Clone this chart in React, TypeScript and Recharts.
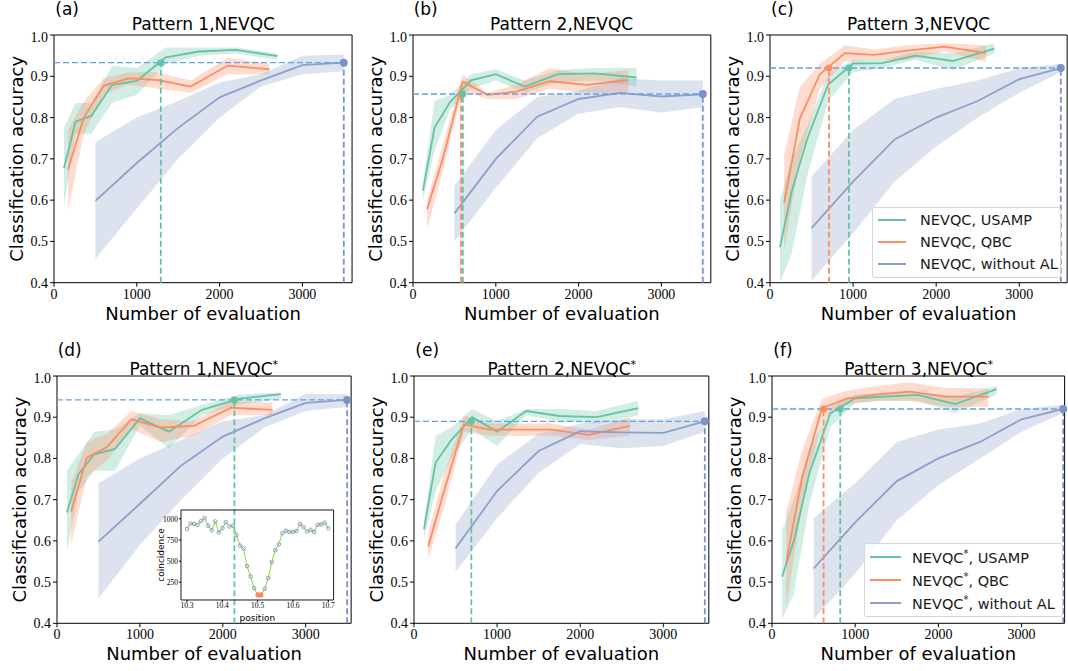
import React from 'react';
import {
  ComposedChart, Line, Area, XAxis, YAxis, ReferenceLine, ReferenceDot,
  ReferenceArea, Legend, Label,
} from 'recharts';

const GREEN = '#66c2a5';
const ORANGE = '#fc8d62';
const BLUE = '#8da0cb';
const HLINE = '#66a3e0';
const VBLUE = '#7b93c8';

// x positions (number of evaluation)
const USAMP_X = [120, 260, 450, 700, 1000, 1350, 1750, 2200, 2700];
const QBC_X = [170, 360, 600, 900, 1250, 1650, 2100, 2600];
const NOAL_X = [500, 1000, 1500, 2000, 2500, 3000, 3500];
const X_TICKS = [0, 1000, 2000, 3000];
const Y_TICKS = [0.4, 0.5, 0.6, 0.7, 0.8, 0.9, 1.0];

// (a) Pattern 1, NEVQC
const aUsamp = [0.677, 0.79, 0.804, 0.879, 0.889, 0.946, 0.96, 0.964, 0.949];
const aUsampLo = [0.585, 0.76, 0.76, 0.835, 0.855, 0.93, 0.95, 0.955, 0.94];
const aUsampHi = [0.775, 0.835, 0.835, 0.925, 0.92, 0.97, 0.97, 0.97, 0.955];
const aQbc = [0.674, 0.8, 0.877, 0.895, 0.891, 0.875, 0.926, 0.917];
const aQbcLo = [0.575, 0.76, 0.855, 0.88, 0.87, 0.86, 0.905, 0.905];
const aQbcHi = [0.77, 0.84, 0.895, 0.91, 0.91, 0.89, 0.945, 0.93];
const aNoal = [0.598, 0.69, 0.775, 0.849, 0.89, 0.927, 0.933];
const aNoalLo = [0.458, 0.58, 0.7, 0.8, 0.875, 0.905, 0.912];
const aNoalHi = [0.74, 0.8, 0.84, 0.885, 0.905, 0.95, 0.953];

// (b) Pattern 2, NEVQC
const bUsamp = [0.623, 0.776, 0.838, 0.89, 0.905, 0.875, 0.905, 0.907, 0.897];
const bUsampLo = [0.6, 0.72, 0.82, 0.87, 0.89, 0.86, 0.885, 0.89, 0.875];
const bUsampHi = [0.64, 0.84, 0.855, 0.905, 0.917, 0.89, 0.915, 0.92, 0.92];
const bQbc = [0.578, 0.7, 0.887, 0.855, 0.863, 0.888, 0.879, 0.891];
const bQbcLo = [0.53, 0.67, 0.865, 0.845, 0.845, 0.87, 0.86, 0.86];
const bQbcHi = [0.6, 0.735, 0.905, 0.86, 0.88, 0.92, 0.905, 0.915];
const bNoal = [0.568, 0.7, 0.802, 0.845, 0.86, 0.851, 0.856];
const bNoalLo = [0.5, 0.63, 0.75, 0.81, 0.825, 0.812, 0.825];
const bNoalHi = [0.635, 0.77, 0.85, 0.865, 0.895, 0.89, 0.89];

// (c) Pattern 3, NEVQC
const cUsamp = [0.486, 0.62, 0.75, 0.88, 0.931, 0.932, 0.95, 0.937, 0.967];
const cUsampLo = [0.4, 0.47, 0.66, 0.84, 0.91, 0.92, 0.94, 0.915, 0.955];
const cUsampHi = [0.6, 0.7, 0.78, 0.905, 0.94, 0.94, 0.96, 0.955, 0.98];
const cQbc = [0.594, 0.798, 0.905, 0.956, 0.952, 0.962, 0.972, 0.956];
const cQbcLo = [0.48, 0.7, 0.87, 0.935, 0.94, 0.94, 0.96, 0.935];
const cQbcHi = [0.71, 0.875, 0.93, 0.975, 0.965, 0.975, 0.98, 0.975];
const cNoal = [0.532, 0.645, 0.747, 0.8, 0.84, 0.893, 0.92];
const cNoalLo = [0.405, 0.52, 0.645, 0.73, 0.8, 0.86, 0.91];
const cNoalHi = [0.657, 0.77, 0.845, 0.87, 0.89, 0.92, 0.93];

// (d) Pattern 1, NEVQC*
const dUsamp = [0.669, 0.762, 0.81, 0.823, 0.897, 0.865, 0.918, 0.945, 0.956];
const dUsampLo = [0.575, 0.72, 0.77, 0.77, 0.88, 0.825, 0.905, 0.93, 0.945];
const dUsampHi = [0.77, 0.81, 0.865, 0.87, 0.91, 0.905, 0.93, 0.955, 0.96];
const dQbc = [0.671, 0.802, 0.827, 0.895, 0.875, 0.879, 0.923, 0.918];
const dQbcLo = [0.59, 0.755, 0.795, 0.87, 0.84, 0.855, 0.905, 0.905];
const dQbcHi = [0.74, 0.84, 0.86, 0.915, 0.895, 0.89, 0.94, 0.935];
const dNoal = [0.598, 0.69, 0.783, 0.853, 0.897, 0.935, 0.942];
const dNoalLo = [0.46, 0.59, 0.7, 0.8, 0.875, 0.915, 0.925];
const dNoalHi = [0.74, 0.8, 0.845, 0.89, 0.905, 0.957, 0.955];

// (e) Pattern 2, NEVQC*
const eUsamp = [0.628, 0.79, 0.845, 0.9, 0.865, 0.915, 0.903, 0.9, 0.922];
const eUsampLo = [0.605, 0.72, 0.8, 0.87, 0.83, 0.905, 0.89, 0.885, 0.905];
const eUsampHi = [0.65, 0.855, 0.875, 0.92, 0.89, 0.92, 0.92, 0.915, 0.94];
const eQbc = [0.586, 0.72, 0.883, 0.87, 0.87, 0.87, 0.857, 0.879];
const eQbcLo = [0.555, 0.68, 0.865, 0.855, 0.855, 0.855, 0.845, 0.855];
const eQbcHi = [0.62, 0.76, 0.905, 0.885, 0.885, 0.885, 0.87, 0.9];
const eNoal = [0.582, 0.721, 0.818, 0.866, 0.863, 0.862, 0.89];
const eNoalLo = [0.525, 0.655, 0.765, 0.835, 0.825, 0.83, 0.865];
const eNoalHi = [0.64, 0.785, 0.86, 0.885, 0.895, 0.895, 0.915];

// (f) Pattern 3, NEVQC*
const fUsamp = [0.513, 0.598, 0.764, 0.909, 0.946, 0.95, 0.954, 0.932, 0.968];
const fUsampLo = [0.41, 0.47, 0.69, 0.875, 0.935, 0.94, 0.94, 0.91, 0.955];
const fUsampHi = [0.625, 0.7, 0.82, 0.925, 0.955, 0.96, 0.96, 0.95, 0.975];
const fQbc = [0.547, 0.752, 0.922, 0.945, 0.955, 0.962, 0.95, 0.95];
const fQbcLo = [0.44, 0.68, 0.895, 0.93, 0.94, 0.94, 0.925, 0.925];
const fQbcHi = [0.67, 0.82, 0.945, 0.965, 0.975, 0.985, 0.97, 0.97];
const fNoal = [0.533, 0.645, 0.745, 0.8, 0.84, 0.895, 0.92];
const fNoalLo = [0.41, 0.52, 0.65, 0.735, 0.8, 0.865, 0.91];
const fNoalHi = [0.655, 0.74, 0.84, 0.87, 0.885, 0.92, 0.93];

// inset (d): coincidence vs position
const INSET_POS = [10.30, 10.31, 10.32, 10.33, 10.34, 10.35, 10.36, 10.37, 10.38, 10.39,
  10.40, 10.41, 10.42, 10.43, 10.44, 10.45, 10.46, 10.47, 10.48, 10.49,
  10.50, 10.51, 10.52, 10.53, 10.54, 10.55, 10.56, 10.57, 10.58, 10.59,
  10.60, 10.61, 10.62, 10.63, 10.64, 10.65, 10.66, 10.67, 10.68, 10.69, 10.70];
const INSET_COUNT = [880, 945, 940, 930, 975, 1010, 920, 865, 970, 840,
  890, 960, 910, 920, 810, 685, 650, 440, 320, 180,
  100, 100, 175, 300, 490, 630, 700, 830, 860, 845,
  845, 855, 940, 900, 850, 870, 845, 930, 935, 955, 890];
const INSET_MIN = { x: 10.505, y: 100 };
const INSET_X_TICKS = [10.3, 10.4, 10.5, 10.6, 10.7];
const INSET_Y_TICKS = [250, 500, 750, 1000];

const YW = 54;
const MT = 6;
const MR = 6;
const XH = 46;

const SANS = 'DejaVu Sans';
const SERIF = 'Liberation Serif';

type PanelCfg = {
  letter: string; pattern: string; star: boolean;
  left: number; top: number; h: number; scale: number; xMax: number;
  usamp: number[]; usampLo: number[]; usampHi: number[];
  qbc: number[]; qbcLo: number[]; qbcHi: number[];
  noal: number[]; noalLo: number[]; noalHi: number[];
  target: number; vlines: { x: number; c: string }[];
  legend?: { left: number; top: number; w: number; rowH: number; lineW: number; gap: number };
  inset?: boolean;
};

const PANELS: PanelCfg[] = [
  { letter: '(a)', pattern: 'Pattern 1', star: false, left: 54.3, top: 35, h: 247.7, scale: 82.8, xMax: 3600,
    usamp: aUsamp, usampLo: aUsampLo, usampHi: aUsampHi, qbc: aQbc, qbcLo: aQbcLo, qbcHi: aQbcHi,
    noal: aNoal, noalLo: aNoalLo, noalHi: aNoalHi, target: 0.933, vlines: [{ x: 1290, c: GREEN }] },
  { letter: '(b)', pattern: 'Pattern 2', star: false, left: 412.7, top: 35, h: 247.7, scale: 82.8, xMax: 3597,
    usamp: bUsamp, usampLo: bUsampLo, usampHi: bUsampHi, qbc: bQbc, qbcLo: bQbcLo, qbcHi: bQbcHi,
    noal: bNoal, noalLo: bNoalLo, noalHi: bNoalHi, target: 0.857, vlines: [{ x: 580, c: ORANGE }, { x: 602, c: GREEN }] },
  { letter: '(c)', pattern: 'Pattern 3', star: false, left: 770, top: 35, h: 247.7, scale: 83.1, xMax: 3576,
    usamp: cUsamp, usampLo: cUsampLo, usampHi: cUsampHi, qbc: cQbc, qbcLo: cQbcLo, qbcHi: cQbcHi,
    noal: cNoal, noalLo: cNoalLo, noalHi: cNoalHi, target: 0.92, vlines: [{ x: 710, c: ORANGE }, { x: 950, c: GREEN }],
    legend: { left: 872, top: 207, w: 189, rowH: 22, lineW: 28, gap: 14 } },
  { letter: '(d)', pattern: 'Pattern 1', star: true, left: 56.7, top: 376, h: 247.3, scale: 82.9, xMax: 3548,
    usamp: dUsamp, usampLo: dUsampLo, usampHi: dUsampHi, qbc: dQbc, qbcLo: dQbcLo, qbcHi: dQbcHi,
    noal: dNoal, noalLo: dNoalLo, noalHi: dNoalHi, target: 0.942, vlines: [{ x: 2140, c: GREEN }], inset: true },
  { letter: '(e)', pattern: 'Pattern 2', star: true, left: 414.3, top: 376, h: 247.3, scale: 83.1, xMax: 3548,
    usamp: eUsamp, usampLo: eUsampLo, usampHi: eUsampHi, qbc: eQbc, qbcLo: eQbcLo, qbcHi: eQbcHi,
    noal: eNoal, noalLo: eNoalLo, noalHi: eNoalHi, target: 0.89, vlines: [{ x: 690, c: GREEN }] },
  { letter: '(f)', pattern: 'Pattern 3', star: true, left: 772.3, top: 376, h: 247.3, scale: 83.2, xMax: 3517,
    usamp: fUsamp, usampLo: fUsampLo, usampHi: fUsampHi, qbc: fQbc, qbcLo: fQbcLo, qbcHi: fQbcHi,
    noal: fNoal, noalLo: fNoalLo, noalHi: fNoalHi, target: 0.92, vlines: [{ x: 620, c: ORANGE }, { x: 820, c: GREEN }],
    legend: { left: 864, top: 543, w: 199, rowH: 23, lineW: 31, gap: 11 } },
];

const build = (xs: number[], ys: number[], lo: number[], hi: number[]) =>
  xs.map((x, i) => ({ x, y: ys[i], r: [lo[i], hi[i]] }));

const Star = () => <tspan dy={-7} fontSize={11}>*</tspan>;

function LegendBox({ cfg }: { cfg: PanelCfg }) {
  const L = cfg.legend!;
  const base = cfg.star ? 'NEVQC' : 'NEVQC';
  const items = [
    { c: GREEN, t: 'USAMP' },
    { c: ORANGE, t: 'QBC' },
    { c: BLUE, t: 'without AL' },
  ];
  return (
    <div style={{
      width: L.w, boxSizing: 'border-box', border: '1px solid #d6d6d6', borderRadius: 3,
      background: 'rgba(255,255,255,0.85)', padding: '1px 0 2px 5px', fontFamily: SANS, fontSize: 14.5, color: '#1a1a1a',
    }}>
      {items.map((it) => (
        <div key={it.t} style={{ height: L.rowH, display: 'flex', alignItems: 'center', whiteSpace: 'nowrap' }}>
          <svg width={L.lineW} height={4} style={{ marginRight: L.gap }}>
            <line x1={0} y1={2} x2={L.lineW} y2={2} stroke={it.c} strokeWidth={2} />
          </svg>
          <span>{base}{cfg.star ? <sup style={{ fontSize: 10, verticalAlign: 6 }}>*</sup> : null}, {it.t}</span>
        </div>
      ))}
    </div>
  );
}

function Panel({ cfg }: { cfg: PanelCfg }) {
  const W = (cfg.xMax / 1000) * cfg.scale;
  const usampData = build(USAMP_X, cfg.usamp, cfg.usampLo, cfg.usampHi);
  const qbcData = build(QBC_X, cfg.qbc, cfg.qbcLo, cfg.qbcHi);
  const noalData = build(NOAL_X, cfg.noal, cfg.noalLo, cfg.noalHi);
  const chartLeft = cfg.left - YW;
  const chartTop = cfg.top - MT;
  const dash = '6 3';
  return (
    <>
      <div style={{ position: 'absolute', left: cfg.left + 1, top: cfg.top - 36, fontFamily: SANS, fontSize: 17, lineHeight: '20px', color: '#000' }}>
        {cfg.letter}
      </div>
      <div style={{ position: 'absolute', left: cfg.left, width: W, top: cfg.top - 21, textAlign: 'center', fontFamily: SANS, fontSize: 17, lineHeight: '20px', color: '#000', whiteSpace: 'nowrap' }}>
        {cfg.pattern},NEVQC{cfg.star ? <sup style={{ fontSize: 11, verticalAlign: 7 }}>*</sup> : null}
      </div>
      <div style={{ position: 'absolute', left: chartLeft, top: chartTop }}>
        <ComposedChart width={YW + W + MR} height={MT + cfg.h + XH} margin={{ top: MT, right: MR, left: 0, bottom: 0 }}>
          <XAxis type="number" dataKey="x" domain={[0, cfg.xMax]} ticks={X_TICKS} allowDataOverflow
            axisLine={false} tickSize={4} tickMargin={2} stroke="#000" height={XH}
            tick={{ fontFamily: SERIF, fontSize: 14, fill: '#000' }}>
            <Label value="Number of evaluation" position="insideBottom" offset={9}
              style={{ fontFamily: SANS, fontSize: 18, fill: '#000' }} />
          </XAxis>
          <YAxis type="number" domain={[0.4, 1]} ticks={Y_TICKS} allowDataOverflow width={YW}
            axisLine={false} tickSize={4} tickMargin={2} stroke="#000"
            tickFormatter={(v: number) => v.toFixed(1)}
            tick={{ fontFamily: SERIF, fontSize: 14, fill: '#000' }}>
            <Label value="Classification accuracy" angle={-90} position="center" dx={-10.5}
              style={{ fontFamily: SANS, fontSize: 18, fill: '#000', textAnchor: 'middle' }} />
          </YAxis>

          <Area data={usampData} dataKey="r" type="linear" stroke="none" fill={GREEN} fillOpacity={0.3}
            isAnimationActive={false} legendType="none" activeDot={false} />
          <Area data={qbcData} dataKey="r" type="linear" stroke="none" fill={ORANGE} fillOpacity={0.3}
            isAnimationActive={false} legendType="none" activeDot={false} />
          <Area data={noalData} dataKey="r" type="linear" stroke="none" fill={BLUE} fillOpacity={0.3}
            isAnimationActive={false} legendType="none" activeDot={false} />

          <Line data={usampData} dataKey="y" type="linear" stroke={GREEN} strokeWidth={1.8} dot={false}
            isAnimationActive={false} name="USAMP" />
          <Line data={qbcData} dataKey="y" type="linear" stroke={ORANGE} strokeWidth={1.8} dot={false}
            isAnimationActive={false} name="QBC" />
          <Line data={noalData} dataKey="y" type="linear" stroke={BLUE} strokeWidth={1.8} dot={false}
            isAnimationActive={false} name="without AL" />

          <ReferenceLine segment={[{ x: 0, y: cfg.target }, { x: 3500, y: cfg.target }]}
            stroke={HLINE} strokeWidth={1.4} strokeDasharray={dash} />
          {cfg.vlines.map((v) => (
            <ReferenceLine key={v.x} segment={[{ x: v.x, y: 0.4 }, { x: v.x, y: cfg.target }]}
              stroke={v.c} strokeWidth={1.8} strokeDasharray={dash} />
          ))}
          <ReferenceLine segment={[{ x: 3500, y: 0.4 }, { x: 3500, y: cfg.target }]}
            stroke={VBLUE} strokeWidth={1.8} strokeDasharray={dash} />
          {cfg.vlines.map((v) => (
            <ReferenceDot key={'d' + v.x} x={v.x} y={cfg.target} r={3.5} fill={v.c} stroke="none" />
          ))}
          <ReferenceDot x={3500} y={cfg.target} r={4} fill={VBLUE} stroke="none" />

          <ReferenceArea x1={0} x2={cfg.xMax} y1={0.4} y2={1} fill="none" stroke="#000" strokeWidth={1} />

          {cfg.legend ? (
            <Legend layout="vertical" align="center" verticalAlign="middle"
              wrapperStyle={{ left: cfg.legend.left - chartLeft, top: cfg.legend.top - chartTop, width: cfg.legend.w, height: 'auto', right: 'auto', bottom: 'auto' }}
              content={() => <LegendBox cfg={cfg} />} />
          ) : null}
        </ComposedChart>
      </div>
    </>
  );
}

const IW = 32;
const INSET_LEFT = 180.7;
const INSET_TOP = 510;
const INSET_W = 152.6;
const INSET_H = 90;

function Inset() {
  const data = INSET_POS.map((x, i) => ({ x, y: INSET_COUNT[i] }));
  return (
    <div style={{ position: 'absolute', left: INSET_LEFT - IW, top: INSET_TOP - 2 }}>
      <ComposedChart width={IW + INSET_W + 2} height={2 + INSET_H + 24} data={data}
        margin={{ top: 2, right: 2, left: 0, bottom: 0 }}>
        <XAxis type="number" dataKey="x" domain={[10.283, 10.715]} ticks={INSET_X_TICKS} allowDataOverflow
          tickFormatter={(v: number) => v.toFixed(1)} axisLine={false} tickSize={2} tickMargin={1} height={24}
          stroke="#000" tick={{ fontFamily: SERIF, fontSize: 7.5, fill: '#000' }}>
          <Label value="position" position="insideBottom" offset={3} style={{ fontFamily: SANS, fontSize: 9, fill: '#000' }} />
        </XAxis>
        <YAxis type="number" domain={[40, 1105]} ticks={INSET_Y_TICKS} allowDataOverflow width={IW}
          axisLine={false} tickSize={2} tickMargin={1} stroke="#000"
          tick={{ fontFamily: SERIF, fontSize: 7.5, fill: '#000' }}>
          <Label value="coincidence" angle={-90} position="center" dx={-4}
            style={{ fontFamily: SANS, fontSize: 9, fill: '#000', textAnchor: 'middle' }} />
        </YAxis>
        <Line dataKey="y" type="linear" stroke="#9acd32" strokeWidth={1}
          dot={{ r: 1.8, stroke: '#7d95cc', strokeWidth: 0.9, fill: 'none' }}
          isAnimationActive={false} />
        <ReferenceDot x={INSET_MIN.x} y={INSET_MIN.y} r={3}
          shape={(p: any) => <rect x={p.cx - 3.5} y={p.cy - 2.5} width={7} height={5} fill={ORANGE} />} />
        <ReferenceArea x1={10.283} x2={10.715} y1={40} y2={1105} fill="none" stroke="#000" strokeWidth={0.9} />
      </ComposedChart>
    </div>
  );
}

export default function App() {
  return (
    <div style={{ position: 'absolute', left: 0, top: 0, width: 1068, height: 671, background: '#fff', overflow: 'hidden' }}>
      {PANELS.map((p) => <Panel key={p.letter} cfg={p} />)}
      <Inset />
    </div>
  );
}
